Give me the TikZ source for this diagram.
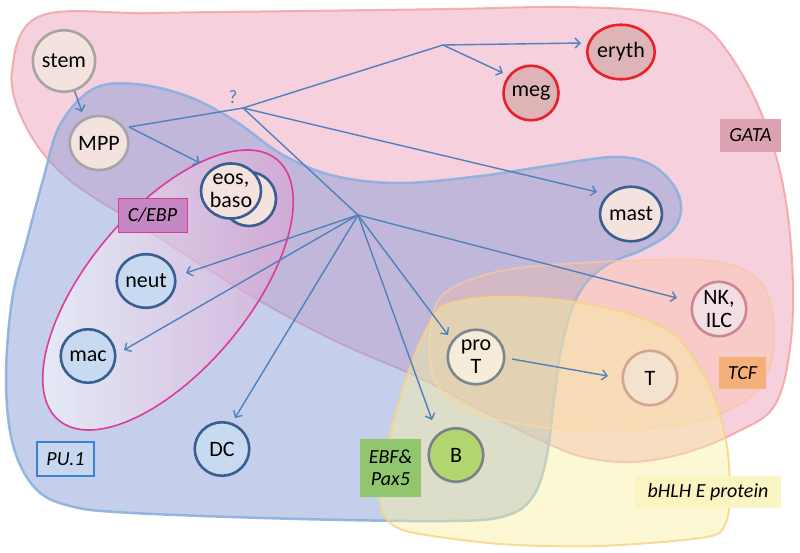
\documentclass[tikz,border=0pt]{standalone}
\usepackage{fontspec}
\setmainfont{Carlito}
\usetikzlibrary{arrows.meta,shapes.geometric}
\definecolor{pinkF}{RGB}{236,150,180}
\definecolor{pinkS}{RGB}{240,160,160}
\definecolor{blueF}{RGB}{140,160,215}
\definecolor{blueS}{RGB}{140,176,222}
\definecolor{tcfF}{RGB}{252,190,150}
\definecolor{tcfS}{RGB}{248,200,165}
\definecolor{yelF}{RGB}{248,240,160}
\definecolor{yelS}{RGB}{246,212,130}
\definecolor{cebpR}{RGB}{220,160,210}
\definecolor{cebpS}{RGB}{220,60,150}
\definecolor{arrowC}{RGB}{79,129,189}
\definecolor{grayB}{RGB}{165,165,165}
\definecolor{peachF}{RGB}{244,226,222}
\definecolor{dblue}{RGB}{55,95,145}
\definecolor{lblueF}{RGB}{200,218,240}
\definecolor{redB}{RGB}{232,32,40}
\definecolor{redF}{RGB}{222,180,182}
\definecolor{nkB}{RGB}{205,135,145}
\definecolor{nkF}{RGB}{243,222,228}
\definecolor{tB}{RGB}{210,165,150}
\definecolor{tF}{RGB}{245,226,205}
\definecolor{protB}{RGB}{125,135,145}
\definecolor{protF}{RGB}{246,236,218}
\definecolor{bF}{RGB}{180,212,110}
\definecolor{bB}{RGB}{120,130,140}
\definecolor{cebpL}{RGB}{196,135,196}
\definecolor{gataL}{RGB}{220,162,178}
\definecolor{tcfL}{RGB}{245,176,122}
\definecolor{bhlhL}{RGB}{250,244,190}
\definecolor{ebfL}{RGB}{145,198,110}
\definecolor{puL}{RGB}{200,215,240}
\definecolor{puB}{RGB}{60,130,210}
\newcommand\mycellfont{\fontsize{22}{23}\selectfont}
\newcommand\mylabfont{\fontsize{20}{22}\selectfont\itshape}
\begin{document}
\begin{tikzpicture}[x=1pt,y=-1pt,
 cell/.style={ellipse, line width=2.6pt, inner sep=0pt, minimum width=54.5pt, minimum height=54.5pt, font=\mycellfont, align=center},
 arr/.style={-{Straight Barb[length=5pt,width=10pt]}, line width=1.4pt, draw=arrowC},
 ln/.style={line width=1.4pt, draw=arrowC},
 lab/.style={font=\mylabfont, inner sep=0pt, align=center},
 region/.style={line width=2pt}]
\useasboundingbox (0,0) rectangle (800,552);
% GATA region
\path[region, fill=pinkF, fill opacity=0.45, draw=pinkS, draw opacity=0.8]
 plot[smooth cycle, tension=0.6] coordinates {(40,16) (150,13) (300,11) (450,9) (560,7) (650,11) (700,24) (730,55) (760,110) (782,180) (792,260) (791,340) (775,405) (735,433) (685,453) (633,462) (583,457) (540,440) (490,415) (420,378) (333,340) (250,295) (150,232) (67,178) (25,125) (12,70)};
% PU.1 region
\path[region, line width=2.5pt, fill=blueF, fill opacity=0.5, draw=blueS, draw opacity=0.9]
 plot[smooth cycle, tension=0.6] coordinates {(93,89) (135,84) (187,96) (235,121) (283,155) (335,176) (400,183) (480,176) (547,166) (613,157) (650,164) (674,186) (681,210) (671,232) (642,250) (605,266) (578,295) (562,345) (554,400) (546,460) (532,498) (505,516) (450,521) (300,519) (133,513) (70,506) (35,488) (13,445) (6,380) (12,300) (27,240) (43,180) (60,125)};
% C/EBP ellipse
\shade[left color=white, right color=cebpR, fill opacity=0.55]
 plot[domain=0:360, samples=90, smooth cycle] ({168+170*cos(\x)*cos(50)-80*sin(\x)*sin(50)}, {290-(170*cos(\x)*sin(50)+80*sin(\x)*cos(50))});
\draw[cebpS, line width=1.6pt]
 plot[domain=0:360, samples=90, smooth cycle] ({168+170*cos(\x)*cos(50)-80*sin(\x)*sin(50)}, {290-(170*cos(\x)*sin(50)+80*sin(\x)*cos(50))});
% TCF region
\path[region, fill=tcfF, fill opacity=0.3, draw=tcfS, draw opacity=0.7]
 plot[smooth cycle, tension=0.6] coordinates {(440,298) (475,278) (527,267) (620,261) (700,260) (745,270) (768,295) (774,340) (763,383) (735,407) (690,423) (600,432) (510,422) (460,406) (434,378) (430,335)};
% bHLH region
\path[region, fill=yelF, fill opacity=0.45, draw=yelS, draw opacity=0.8]
 plot[smooth cycle, tension=0.5] coordinates {(445,305) (493,297) (560,300) (627,313) (677,337) (710,387) (726,440) (730,490) (726,522) (707,537) (600,546) (500,544) (410,532) (385,517) (380,490) (392,427) (410,367) (427,328)};
% labels
\node[lab, fill=cebpL, draw=cebpS, line width=1pt, minimum width=69pt, minimum height=34pt] (cebp) at (152.5,215) {C/EBP};
\node[lab, fill=gataL, minimum width=61pt, minimum height=33pt] (gata) at (750.5,135.5) {GATA};
\node[lab, fill=tcfL, minimum width=47pt, minimum height=32pt] (tcf) at (742.5,373) {TCF};
\node[lab, fill=bhlhL, fill opacity=0.9, text opacity=1, minimum width=146pt, minimum height=32pt] (bhlh) at (708,492) {bHLH E protein};
\node[lab, fill=ebfL, minimum width=61pt, minimum height=58pt] (ebf) at (390.5,468) {EBF\&\\Pax5};
\node[lab, fill=puL, draw=puB, line width=1.2pt, minimum width=57pt, minimum height=34pt] (pu) at (65.5,459) {PU.1};
% cells
\node[cell, draw=grayB, fill=peachF, minimum width=61.5pt, minimum height=61.5pt] (stem) at (64,61) {stem};
\node[cell, draw=grayB, fill=peachF, minimum width=54pt, minimum height=54pt] (mpp) at (99,143) {MPP};
\node[cell, draw=dblue, fill=peachF, minimum width=54pt, minimum height=54pt] (eosback) at (249,199) {};
\node[cell, draw=dblue, fill=peachF, minimum width=60pt, minimum height=55pt] (eos) at (231,191) {eos,\\baso};
\node[cell, draw=redB, fill=redF, minimum width=55.5pt, minimum height=54.5pt] (eryth) at (621,52) {eryth};
\node[cell, draw=redB, fill=redF] (meg) at (531,93) {meg};
\node[cell, draw=dblue, fill=peachF, minimum width=62pt, minimum height=54.5pt] (mast) at (631,214) {mast};
\node[cell, draw=dblue, fill=lblueF, minimum width=55.5pt, minimum height=53.5pt] (neut) at (146,281) {neut};
\node[cell, draw=dblue, fill=lblueF, minimum height=53.5pt] (mac) at (88,356) {mac};
\node[cell, draw=dblue, fill=lblueF, minimum height=53.5pt] (dc) at (222,449) {DC};
\node[cell, draw=bB, fill=bF, minimum height=53.5pt] (b) at (456,455) {B};
\node[cell, draw=protB, fill=protF, minimum width=56.5pt] (prot) at (476,357) {pro\\T};
\node[cell, draw=tB, fill=tF] (t) at (650,378) {T};
\node[cell, draw=nkB, fill=nkF] (nk) at (719,309) {NK,\\ILC};
\node[font=\fontsize{19}{19}\selectfont, text=arrowC] (q) at (233,97) {?};
% junctions and tips
\coordinate (mppout) at (129,127);
\coordinate (j1) at (243,108);
\coordinate (j2) at (443,45);
\coordinate (hub) at (358,215);
\coordinate (stemtip) at (82,112);
\coordinate (eostip) at (200,163);
\coordinate (erythtip) at (581,43);
\coordinate (megtip) at (503,73);
\coordinate (masttip) at (597,192);
\coordinate (nktip) at (677,298);
\coordinate (neuttip) at (186,273);
\coordinate (mactip) at (124,350);
\coordinate (dctip) at (235,418);
\coordinate (btip) at (432,420);
\coordinate (prottip) at (448,335);
\coordinate (protout) at (512,359);
\coordinate (ttip) at (608,376);
% connectors
\draw[arr] (stem) -- (stemtip);
\draw[ln] (mppout) -- (j1) -- (j2);
\draw[arr] (mppout) -- (eostip);
\draw[arr] (j2) -- (erythtip);
\draw[arr] (j2) -- (megtip);
\draw[arr] (j1) -- (masttip);
\draw[ln] (j1) -- (hub);
\draw[arr] (hub) -- (neuttip);
\draw[arr] (hub) -- (mactip);
\draw[arr] (hub) -- (dctip);
\draw[arr] (hub) -- (btip);
\draw[arr] (hub) -- (prottip);
\draw[arr] (hub) -- (nktip);
\draw[arr] (protout) -- (ttip);
\end{tikzpicture}
\end{document}
